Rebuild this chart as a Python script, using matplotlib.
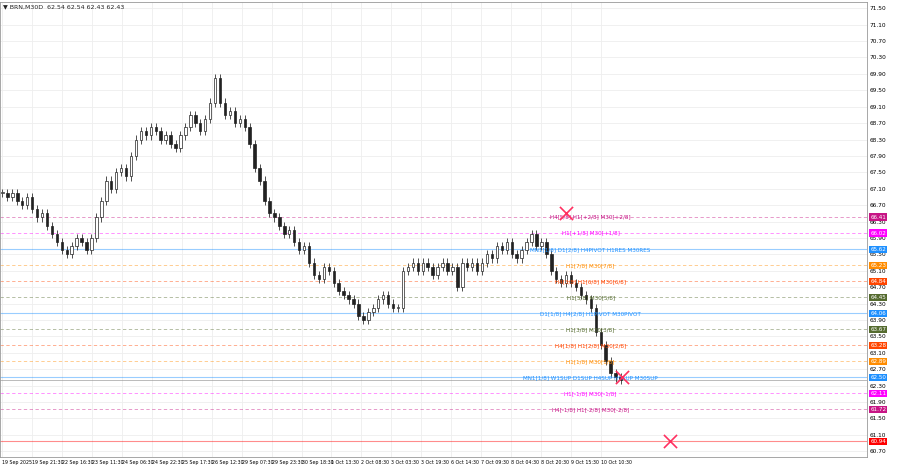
import matplotlib
matplotlib.use("Agg")
import matplotlib.pyplot as plt
import numpy as np

# closes, roughly one every 5 px
closes = [67.0, 66.9, 67.0, 66.8, 66.7, 66.9, 66.6, 66.4, 66.5, 66.2,
          66.0, 65.8, 65.6, 65.5, 65.7, 65.9, 65.8, 65.6, 65.9, 66.4,
          66.8, 67.3, 67.1, 67.5, 67.6, 67.4, 67.9, 68.3, 68.5, 68.4,
          68.6, 68.5, 68.3, 68.4, 68.2, 68.1, 68.4, 68.6, 68.9, 68.7,
          68.5, 68.8, 69.2, 69.8, 69.2, 68.9, 69.0, 68.7, 68.8, 68.6,
          68.2, 67.6, 67.3, 66.8, 66.5, 66.4, 66.2, 66.0, 66.1, 65.8,
          65.6, 65.7, 65.3, 65.0, 64.9, 65.2, 65.1, 64.8, 64.6, 64.5,
          64.4, 64.3, 64.0, 63.9, 64.1, 64.2, 64.4, 64.5, 64.3, 64.2,
          64.2, 65.1, 65.2, 65.3, 65.1, 65.3, 65.2, 65.0, 65.2, 65.3,
          65.1, 65.2, 64.7, 65.3, 65.2, 65.3, 65.1, 65.3, 65.5, 65.4,
          65.7, 65.6, 65.8, 65.5, 65.4, 65.6, 65.8, 66.0, 65.7, 65.8,
          65.5, 65.1, 64.9, 64.8, 65.0, 64.8, 64.7, 64.5, 64.4, 64.2,
          63.6, 63.3, 62.9, 62.6, 62.5, 62.43]
wick = 0.1

tick_labels = ["19 Sep 2025", "19 Sep 21:30", "22 Sep 16:30", "23 Sep 11:30", "24 Sep 06:30",
               "24 Sep 22:30", "25 Sep 17:30", "26 Sep 12:30", "29 Sep 07:30", "29 Sep 23:30",
               "30 Sep 18:30", "1 Oct 13:30", "2 Oct 08:30", "3 Oct 03:30", "3 Oct 19:30",
               "6 Oct 14:30", "7 Oct 09:30", "8 Oct 04:30", "8 Oct 20:30", "9 Oct 15:30",
               "10 Oct 10:30"]

level_prices = [66.41, 66.02, 65.62, 65.23, 64.84, 64.45, 64.06, 63.67, 63.28, 62.89, 62.50, 62.11, 61.72, 60.94]
level_texts = ["H4[5/8] H1[+2/8] M30[+2/8]", "H1[+1/8] M30[+1/8]",
               "MN1[1/8] D1[2/8] H4PIVOT H1RES M30RES", "H1[7/8] M30[7/8]",
               "H4[3/8] H1[6/8] M30[6/8]", "H1[5/8] M30[5/8]",
               "D1[1/8] H4[2/8] H1PIVOT M30PIVOT", "H1[3/8] M30[3/8]",
               "H4[1/8] H1[2/8] M30[2/8]", "H1[1/8] M30[1/8]",
               "MN1[1/8] W1SUP D1SUP H4SUP H1SUP M30SUP", "H1[-1/8] M30[-1/8]",
               "H4[-1/8] H1[-2/8] M30[-2/8]", ""]
level_colors = ["#c71585", "#ff00ff", "#1e90ff", "#ff8c00", "#ff4500", "#556b2f",
                "#1e90ff", "#556b2f", "#ff4500", "#ff8c00", "#1e90ff", "#ff00ff",
                "#c71585", "#ff0000"]
level_solid = [False, False, True, False, False, False, True, False, False, False, True, False, False, True]

cross_x_px = [565, 622, 670]
cross_y = [66.5, 62.5, 60.95]

fig = plt.figure(figsize=(9, 4.68), dpi=100)
ax = fig.add_axes([0.0, 0.0235, 0.963, 0.972])

n = len(closes)
px_per_bar = 625.0 / n
xmax = 867.0 / px_per_bar
ax.set_xlim(-0.5, xmax)
ax.set_ylim(60.56, 71.65)

opens = [closes[0]] + closes[:-1]
for i in range(n):
    o, c = opens[i], closes[i]
    ax.vlines(i, min(o, c) - wick, max(o, c) + wick, color="#333333", lw=0.6, zorder=3)
    ax.add_patch(plt.Rectangle((i - 0.25, min(o, c)), 0.5, max(abs(c - o), 0.02),
                               facecolor="white" if c >= o else "#222222",
                               edgecolor="#222222", lw=0.5, zorder=4))

tick_pos = [30 * k / px_per_bar for k in range(len(tick_labels))]
ax.set_xticks(tick_pos)
ax.set_xticklabels(tick_labels, fontsize=3.4, ha="left")
yt = np.round(np.arange(60.70, 71.6, 0.40), 2)
ax.yaxis.tick_right()
ax.set_yticks(yt)
ax.set_yticklabels(["%.2f" % v for v in yt], fontsize=4.2)
ax.tick_params(length=0, pad=2)
ax.grid(True, color="#eeeeee", lw=0.6)
for s in ax.spines.values():
    s.set_color("#999999")
    s.set_linewidth(0.6)

lab_x = 590 / px_per_bar
for p, t, col, solid in zip(level_prices, level_texts, level_colors, level_solid):
    ax.axhline(p, color=col, lw=0.8 if solid else 0.6, ls="-" if solid else (0, (4, 3)),
               alpha=0.45 if solid else 0.5, zorder=2)
    if t:
        ax.text(lab_x, p, t, fontsize=4.1, color=col, ha="center", va="center", zorder=5)
    ax.text(1.004, p, "%.2f" % p, transform=ax.get_yaxis_transform(), fontsize=4.1,
            color="white", va="center", ha="left",
            bbox=dict(boxstyle="square,pad=0.2", fc=col, ec="none"), zorder=6)

ax.axhline(closes[-1], color="#888888", lw=0.4, zorder=2)

ax.scatter([x / px_per_bar for x in cross_x_px], cross_y, marker="x", s=90,
           color="#ff3060", lw=1.2, zorder=8)

ax.text(0.004, 0.995, "▼ BRN,M30D  62.54 62.54 62.43 62.43", transform=ax.transAxes,
        fontsize=4.5, va="top", ha="left", color="#222222")

fig.savefig("out.png", dpi=100)
